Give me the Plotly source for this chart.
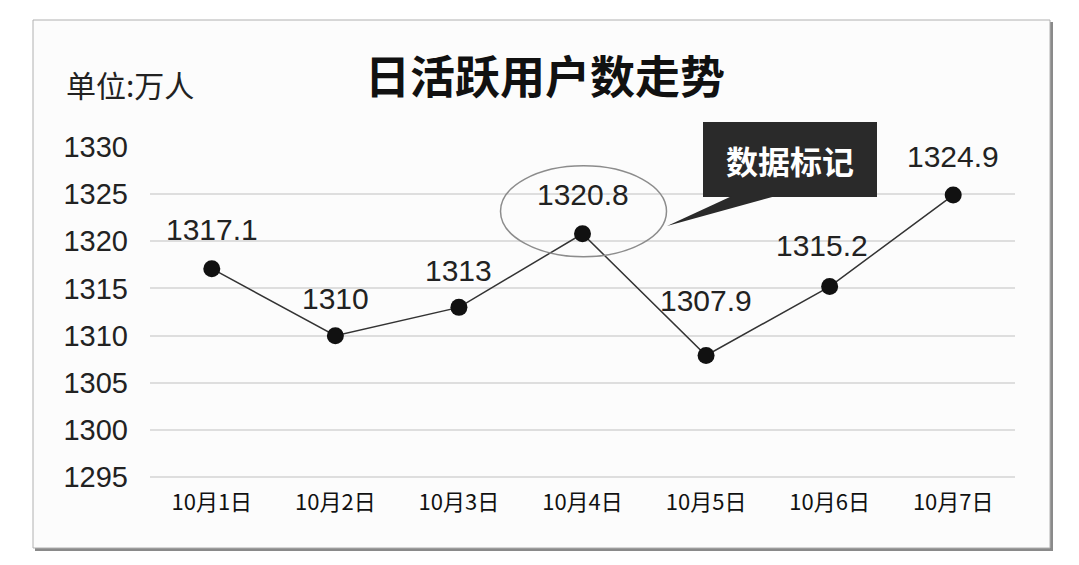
import plotly.graph_objects as go

# data
dates = ["10月1日", "10月2日", "10月3日", "10月4日", "10月5日", "10月6日", "10月7日"]
users = [1317.1, 1310, 1313, 1320.8, 1307.9, 1315.2, 1324.9]
label_text = ["1317.1", "1310", "1313", "1320.8", "1307.9", "1315.2", "1324.9"]
y_ticks = [1295, 1300, 1305, 1310, 1315, 1320, 1325, 1330]

# page puts the figure 8px in from the top-left corner
OFF = 8
W, H = 1079 - OFF, 565 - OFF
L, R, T, B = 150 - OFF, 64, 146 - OFF, 84
PW, PH = W - L - R, H - T - B


def px(x, y):
    # screen pixel (reference picture) -> paper coords, decorations only
    return (x - OFF - L) / PW, (H - B - (y - OFF)) / PH


fig = go.Figure()

fig.add_trace(go.Scatter(
    x=dates, y=users,
    mode="lines+markers",
    line=dict(color="#333333", width=1.5),
    marker=dict(color="#111111", size=17),
    showlegend=False,
    hoverinfo="x+y",
))

# frame with shadow
fx0, fy0 = px(33, 20)
fx1, fy1 = px(1050, 548)
sx0, sy0 = px(35, 22)
sx1, sy1 = px(1053, 551)
shapes = [
    dict(type="rect", xref="paper", yref="paper", x0=sx0, y0=sy1, x1=sx1, y1=sy0,
         line=dict(width=0), fillcolor="#8a8a8a", layer="below"),
    dict(type="rect", xref="paper", yref="paper", x0=fx0, y0=fy1, x1=fx1, y1=fy0,
         line=dict(color="#b0b0b0", width=1), fillcolor="#fcfcfc", layer="below"),
]

# ellipse around the 10月4日 point
shapes.append(dict(
    type="circle", xref="x", yref="y", xsizemode="pixel", ysizemode="pixel",
    xanchor=dates[3], yanchor=users[3], x0=-82, x1=84, y0=-23, y1=68,
    line=dict(color="#8c8c8c", width=1.5), fillcolor="rgba(0,0,0,0)",
))

# callout box + pointer
bx0, by0 = px(703, 122)
bx1, by1 = px(877, 197)
shapes.append(dict(type="rect", xref="paper", yref="paper", x0=bx0, y0=by1, x1=bx1, y1=by0,
                   line=dict(width=0), fillcolor="#2a2a2a"))
p1 = px(732, 196)
p2 = px(776, 196)
p3 = px(667, 226)
shapes.append(dict(
    type="path", xref="paper", yref="paper",
    path="M %f,%f L %f,%f L %f,%f Z" % (p1[0], p1[1], p2[0], p2[1], p3[0], p3[1]),
    line=dict(width=0), fillcolor="#2a2a2a",
))

annotations = []
x_shift = [0, 0, 0, 0, 0, -8, 0]
y_shift = [39, 37, 37, 39, 55, 41, 39]
for i in range(len(dates)):
    annotations.append(dict(
        x=dates[i], y=users[i], xref="x", yref="y", text=label_text[i],
        showarrow=False, xshift=x_shift[i], yshift=y_shift[i],
        xanchor="center", yanchor="middle",
        font=dict(family="Liberation Sans, Arial", size=30, color="#222222"),
    ))

cx, cy = px(790, 160)
annotations.append(dict(
    x=cx, y=cy, xref="paper", yref="paper", text="<b>数据标记</b>", showarrow=False,
    xanchor="center", yanchor="middle",
    font=dict(family="Noto Sans CJK SC", size=32, color="#ffffff"),
))
tx, ty = px(545, 75)
annotations.append(dict(
    x=tx, y=ty, xref="paper", yref="paper", text="<b>日活跃用户数走势</b>", showarrow=False,
    xanchor="center", yanchor="middle",
    font=dict(family="Noto Sans CJK SC", size=45, color="#111111"),
))
ux, uy = px(64, 84)
annotations.append(dict(
    x=ux, y=uy, xref="paper", yref="paper", text="单位:万人", showarrow=False,
    xanchor="left", yanchor="middle",
    font=dict(family="Noto Sans CJK SC", size=30, color="#222222"),
))

fig.update_layout(
    width=W, height=H,
    autosize=False,
    margin=dict(l=L, r=R, t=T, b=B, pad=0),
    paper_bgcolor="white",
    plot_bgcolor="rgba(0,0,0,0)",
    shapes=shapes,
    annotations=annotations,
    xaxis=dict(
        type="category",
        range=[-0.5, 6.5],
        showgrid=False,
        showline=False,
        zeroline=False,
        ticks="",
        tickfont=dict(family="Noto Sans CJK SC", size=22, color="#111111"),
        ticklabelstandoff=6,
    ),
    yaxis=dict(
        range=[1294.6, 1330.1],
        tickvals=y_ticks,
        showgrid=True,
        gridcolor="#dedede",
        gridwidth=2,
        zeroline=False,
        showline=False,
        ticks="",
        tickfont=dict(family="Liberation Sans, Arial", size=29, color="#222222"),
        ticklabelstandoff=21,
    ),
)

fig.write_html("out.html")
